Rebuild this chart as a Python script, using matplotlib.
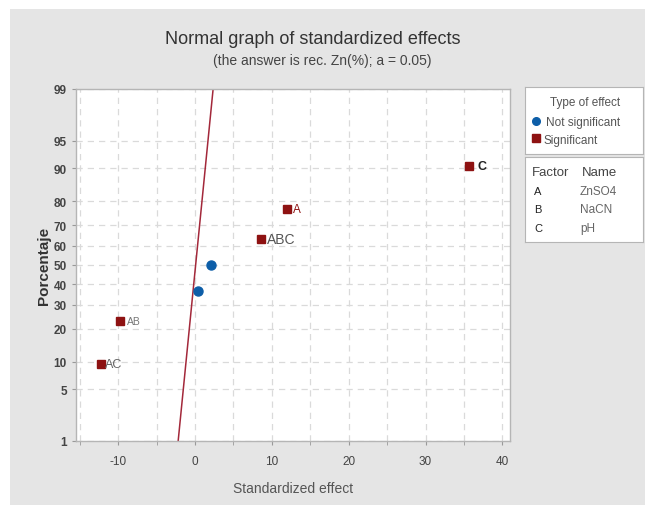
import numpy as np
import matplotlib
matplotlib.use('Agg')
import matplotlib.pyplot as plt
from matplotlib.patches import Rectangle
from statistics import NormalDist

plt.rcParams['font.family'] = ['Liberation Sans', 'DejaVu Sans']
plt.rcParams['axes.unicode_minus'] = False

# Effects (standardized) and normal percentiles
effect_names = ['AC', 'AB', 'B', 'BC', 'ABC', 'A', 'C']
effects = [-12.3, -9.8, 0.43, 2.04, 8.6, 12.0, 35.7]
percents = [9.46, 22.97, 36.49, 50.0, 63.51, 77.03, 90.54]
significant = [True, True, False, False, True, True, True]

# reference line endpoints (effect, percent)
line_x = [-2.2, 2.35]
line_p = [1, 99]

y_ticks = [1, 5, 10, 20, 30, 40, 50, 60, 70, 80, 90, 95, 99]
x_ticks = [-10, 0, 10, 20, 30, 40]

factors = ['A', 'B', 'C']
factor_names = ['ZnSO4', 'NaCN', 'pH']

ND = NormalDist()
_ppf = np.vectorize(lambda v: ND.inv_cdf(v / 100.0), otypes=[float])
_cdf = np.vectorize(lambda v: ND.cdf(v) * 100.0, otypes=[float])

def fwd(p):
    p = np.clip(np.asarray(p, dtype=float), 1e-6, 100 - 1e-6)
    return _ppf(p)

def inv(z):
    return _cdf(np.asarray(z, dtype=float))

BLUE = '#0d5ea8'
RED = '#8e1212'
GRID = '#dadada'
TXT = '#444444'

W, H = 645, 506
fig = plt.figure(figsize=(W / 100, H / 100), dpi=100, facecolor='white')
fig.patches.append(Rectangle((10 / W, 0), 1, (H - 10) / H, transform=fig.transFigure,
                             facecolor='#e5e5e5', edgecolor='none', zorder=-10))

def px_axes(x0, y0, x1, y1):
    return fig.add_axes([x0 / W, 1 - y1 / H, (x1 - x0) / W, (y1 - y0) / H])

ax = px_axes(76, 90, 510, 442)
ax.set_facecolor('white')
ax.set_yscale('function', functions=(fwd, inv))
ax.set_ylim(1, 99)
ax.set_xlim(-15.5, 41)
ax.set_yticks(y_ticks)
ax.set_yticklabels([str(t) for t in y_ticks])
ax.yaxis.set_minor_locator(matplotlib.ticker.NullLocator())
ax.set_xticks(x_ticks)
ax.set_xticks(np.arange(-15, 41, 5), minor=True)

ax.grid(True, which='both', axis='x', linestyle=(0, (5, 4)), color=GRID, linewidth=0.9)
ax.grid(True, which='major', axis='y', linestyle=(0, (5, 4)), color=GRID, linewidth=0.9)
ax.set_axisbelow(True)
for s in ax.spines.values():
    s.set_color('#b5b5b5')
    s.set_linewidth(1.0)
ax.tick_params(which='both', direction='out', length=3, color='#999999',
               labelsize=8.5, labelcolor=TXT)
ax.tick_params(axis='x', pad=7)
for lbl in ax.get_yticklabels():
    lbl.set_fontweight('bold')

ax.plot(line_x, line_p, color='#a3283a', linewidth=1.1, zorder=2)

for x, p, sig in zip(effects, percents, significant):
    if sig:
        ax.plot(x, p, marker='s', markersize=6.3, color=RED, linestyle='none', zorder=3)
    else:
        ax.plot(x, p, marker='o', markersize=6.5, color=BLUE, linestyle='none', zorder=3)

label_style = {
    'AC': dict(color='#666666', fontsize=9, dx=3.5),
    'AB': dict(color='#777777', fontsize=7.5, dx=5),
    'ABC': dict(color='#555555', fontsize=10, dx=4),
    'A': dict(color='#8e1212', fontsize=8.5, dx=4),
    'C': dict(color='#222222', fontsize=9, fontweight='bold', dx=6),
}
for name, x, p in zip(effect_names, effects, percents):
    if name in label_style:
        st = dict(label_style[name])
        dx = st.pop('dx')
        ax.annotate(name, (x, p), xytext=(dx, 0), textcoords='offset points',
                    va='center', ha='left', **st)

ax.set_xlabel('Standardized effect', fontsize=10, color='#555555', labelpad=10)
ax.set_ylabel('Porcentaje', fontsize=11, fontweight='bold', color='#333333', labelpad=2)

fig.text(313 / W, 1 - 40 / H, 'Normal graph of standardized effects', ha='center',
         va='center', fontsize=13, color='#333333')
fig.text(322 / W, 1 - 61 / H, '(the answer is rec. Zn(%); a = 0.05)', ha='center',
         va='center', fontsize=10, color='#444444')

# legend: type of effect
lg1 = px_axes(525, 88, 643, 155)
lg1.set_xlim(525, 643)
lg1.set_ylim(155, 88)
lg1.set_xticks([])
lg1.set_yticks([])
for s in lg1.spines.values():
    s.set_color('#b5b5b5')
lg1.text(585, 103, 'Type of effect', ha='center', va='center', fontsize=8.5, color='#555555')
lg1.plot(536, 122, marker='o', markersize=5.5, color=BLUE)
lg1.text(546, 123, 'Not significant', ha='left', va='center', fontsize=8.5, color='#555555')
lg1.plot(536, 139, marker='s', markersize=5.5, color=RED)
lg1.text(543, 141, 'Significant', ha='left', va='center', fontsize=8.5, color='#555555')

# legend: factor table
lg2 = px_axes(525, 158, 643, 243)
lg2.set_xlim(525, 643)
lg2.set_ylim(243, 158)
lg2.set_xticks([])
lg2.set_yticks([])
for s in lg2.spines.values():
    s.set_color('#b5b5b5')
lg2.text(532, 173, 'Factor', ha='left', va='center', fontsize=9.5, color='#444444')
lg2.text(582, 173, 'Name', ha='left', va='center', fontsize=9.5, color='#444444')
for i, (f, n) in enumerate(zip(factors, factor_names)):
    yy = 192 + i * 18.5
    lg2.text(534, yy, f, ha='left', va='center', fontsize=8, color='#222222')
    lg2.text(580, yy, n, ha='left', va='center', fontsize=8.5, color='#666666')

fig.savefig('out.png', dpi=100, facecolor=fig.get_facecolor())
